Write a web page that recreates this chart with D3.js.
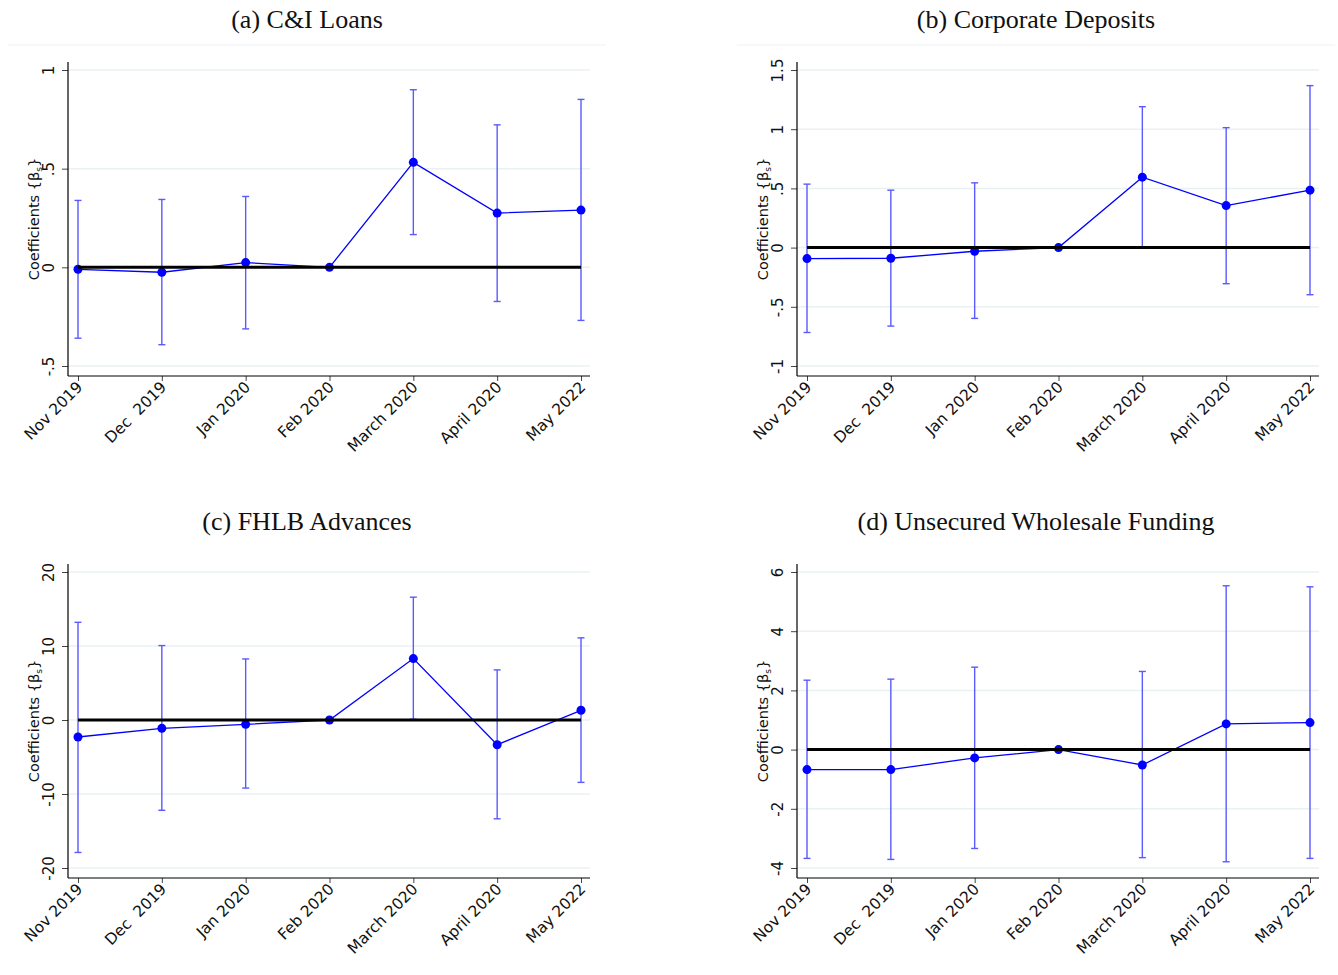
<!DOCTYPE html>
<html>
<head>
<meta charset="utf-8">
<script src="https://cdn.jsdelivr.net/npm/d3@7"></script>
<style>
  body { margin: 0; background: #fff; }
  svg { display: block; }
</style>
</head>
<body>
<svg id="chart" width="1338" height="975"></svg>
<script>
// Event-study months (x axis)
const months = ["Nov 2019", "Dec  2019", "Jan 2020", "Feb 2020", "March 2020", "April 2020", "May 2022"];

// (a) C&I Loans
const loansCoef = [-0.010, -0.025, 0.024, 0, 0.532, 0.275, 0.290];
const loansLo   = [-0.359, -0.392, -0.312, 0, 0.166, -0.173, -0.269];
const loansHi   = [0.339, 0.344, 0.359, 0, 0.900, 0.722, 0.851];
const loansTicks = [-0.5, 0, 0.5, 1];

// (b) Corporate Deposits
const depCoef = [-0.093, -0.090, -0.031, 0, 0.595, 0.355, 0.485];
const depLo   = [-0.717, -0.663, -0.598, 0, -0.003, -0.305, -0.398];
const depHi   = [0.536, 0.485, 0.547, 0, 1.190, 1.013, 1.368];
const depTicks = [-1, -0.5, 0, 0.5, 1, 1.5];

// (c) FHLB Advances
const fhlbCoef = [-2.30, -1.13, -0.59, 0, 8.30, -3.34, 1.31];
const fhlbLo   = [-17.9, -12.2, -9.2, 0, 0.1, -13.35, -8.43];
const fhlbHi   = [13.2, 10.06, 8.25, 0, 16.6, 6.77, 11.1];
const fhlbTicks = [-20, -10, 0, 10, 20];

// (d) Unsecured Wholesale Funding
const uwfCoef = [-0.676, -0.676, -0.280, 0, -0.520, 0.868, 0.913];
const uwfLo   = [-3.675, -3.710, -3.340, 0, -3.650, -3.790, -3.675];
const uwfHi   = [2.345, 2.380, 2.785, 0, 2.640, 5.535, 5.500];
const uwfTicks = [-4, -2, 0, 2, 4, 6];

const panels = [
  { title: "(a) C&I Loans", coef: loansCoef, lo: loansLo, hi: loansHi, ticks: loansTicks, ox: 0, oy: 0, rule: true },
  { title: "(b) Corporate Deposits", coef: depCoef, lo: depLo, hi: depHi, ticks: depTicks, ox: 729, oy: 0, rule: true },
  { title: "(c) FHLB Advances", coef: fhlbCoef, lo: fhlbLo, hi: fhlbHi, ticks: fhlbTicks, ox: 0, oy: 502, rule: false },
  { title: "(d) Unsecured Wholesale Funding", coef: uwfCoef, lo: uwfLo, hi: uwfHi, ticks: uwfTicks, ox: 729, oy: 502, rule: false }
];

// Stata-style numbers: ".5", "-.5"
const fmtTick = v => String(v).replace(/^0\./, ".").replace(/^-0\./, "-.");
// keep repeated spaces in category labels
const fmtCat = s => s.replace(/ {2}/g, " \u00A0");

const sansFont = "'DejaVu Sans', Verdana, sans-serif";
const serifFont = "'Liberation Serif', 'Times New Roman', serif";

// Panel geometry
const axisLeft = 68, axisRight = 590, frameTop = 62, frameBottom = 376;
const firstTickY = 366, lastTickY = 70;
const catLeft = 78, catRight = 581;

const svg = d3.select("#chart");

panels.forEach(p => {
  const g = svg.append("g").attr("transform", `translate(${p.ox},${p.oy})`);

  const x = d3.scalePoint().domain(months).range([catLeft, catRight]);
  const y = d3.scaleLinear()
    .domain([p.ticks[0], p.ticks[p.ticks.length - 1]])
    .range([firstTickY, lastTickY]);

  // Title
  g.append("text")
    .attr("x", 307).attr("y", 28)
    .attr("text-anchor", "middle")
    .style("font-family", serifFont)
    .style("font-size", "26px")
    .attr("fill", "#111")
    .text(p.title);

  if (p.rule) {
    g.append("line")
      .attr("x1", 8).attr("x2", 606).attr("y1", 45).attr("y2", 45)
      .attr("stroke", "#eef2f4").attr("stroke-width", 1.2);
  }

  // Horizontal gridlines
  g.append("g").selectAll("line").data(p.ticks).join("line")
    .attr("x1", axisLeft).attr("x2", axisRight)
    .attr("y1", d => y(d)).attr("y2", d => y(d))
    .attr("stroke", "#eaf1f3").attr("stroke-width", 1.5);

  // Y axis
  const ya = g.append("g").attr("transform", `translate(${axisLeft},0)`)
    .call(d3.axisLeft(y).tickValues(p.ticks).tickFormat(fmtTick).tickSize(6).tickSizeOuter(0));
  ya.select(".domain").remove();
  ya.selectAll(".tick line").attr("stroke", "#444");
  ya.selectAll(".tick text")
    .attr("x", null).attr("dy", null)
    .attr("transform", "translate(-14,0) rotate(-90)")
    .attr("text-anchor", "middle")
    .attr("fill", "#111")
    .style("font-family", sansFont)
    .style("font-size", "15px");

  // X axis
  const xa = g.append("g").attr("transform", `translate(0,${frameBottom})`)
    .call(d3.axisBottom(x).tickFormat(fmtCat).tickSize(5).tickSizeOuter(0));
  xa.select(".domain").remove();
  xa.selectAll(".tick line").attr("stroke", "#444");
  xa.selectAll(".tick text")
    .attr("y", null).attr("dy", null)
    .attr("transform", "translate(5,12) rotate(-45)")
    .attr("text-anchor", "end")
    .attr("fill", "#111")
    .style("font-family", sansFont)
    .style("font-size", "15.5px");

  // Frame lines (left and bottom)
  g.append("line")
    .attr("x1", axisLeft).attr("x2", axisLeft).attr("y1", frameTop).attr("y2", frameBottom)
    .attr("stroke", "#000").attr("stroke-width", 1.2);
  g.append("line")
    .attr("x1", axisLeft).attr("x2", axisRight).attr("y1", frameBottom).attr("y2", frameBottom)
    .attr("stroke", "#000").attr("stroke-width", 1.2);

  // Y-axis title
  const yl = g.append("text")
    .attr("transform", `translate(39,${(frameTop + frameBottom) / 2}) rotate(-90)`)
    .attr("text-anchor", "middle")
    .attr("fill", "#111")
    .style("font-family", sansFont)
    .style("font-size", "14.5px");
  yl.append("tspan").text("Coefficients {\u03B2");
  yl.append("tspan").attr("dy", 3).style("font-size", "9px").text("s");
  yl.append("tspan").attr("dy", -3).text("}");

  const rows = months.map((m, i) => ({ m, c: p.coef[i], lo: p.lo[i], hi: p.hi[i] }));
  const withCI = rows.filter(r => r.hi !== r.lo);

  // Confidence intervals
  const ci = g.append("g").attr("stroke", "#5a5aff").attr("stroke-width", 1.4).attr("fill", "none");
  ci.selectAll("line.bar").data(withCI).join("line").attr("class", "bar")
    .attr("x1", d => x(d.m)).attr("x2", d => x(d.m))
    .attr("y1", d => y(d.lo)).attr("y2", d => y(d.hi));
  ci.selectAll("line.capHi").data(withCI).join("line").attr("class", "capHi")
    .attr("x1", d => x(d.m) - 3.5).attr("x2", d => x(d.m) + 3.5)
    .attr("y1", d => y(d.hi)).attr("y2", d => y(d.hi));
  ci.selectAll("line.capLo").data(withCI).join("line").attr("class", "capLo")
    .attr("x1", d => x(d.m) - 3.5).attr("x2", d => x(d.m) + 3.5)
    .attr("y1", d => y(d.lo)).attr("y2", d => y(d.lo));

  // Coefficient path
  g.append("path")
    .datum(rows)
    .attr("d", d3.line().x(d => x(d.m)).y(d => y(d.c)))
    .attr("fill", "none").attr("stroke", "#0000ff").attr("stroke-width", 1.3);

  // Markers
  g.append("g").selectAll("circle").data(rows).join("circle")
    .attr("cx", d => x(d.m)).attr("cy", d => y(d.c)).attr("r", 4.5)
    .attr("fill", "#0000ff");

  // Zero reference line
  g.append("line")
    .attr("x1", x(months[0])).attr("x2", x(months[months.length - 1]))
    .attr("y1", y(0)).attr("y2", y(0))
    .attr("stroke", "#000").attr("stroke-width", 3);
});
</script>
</body>
</html>
